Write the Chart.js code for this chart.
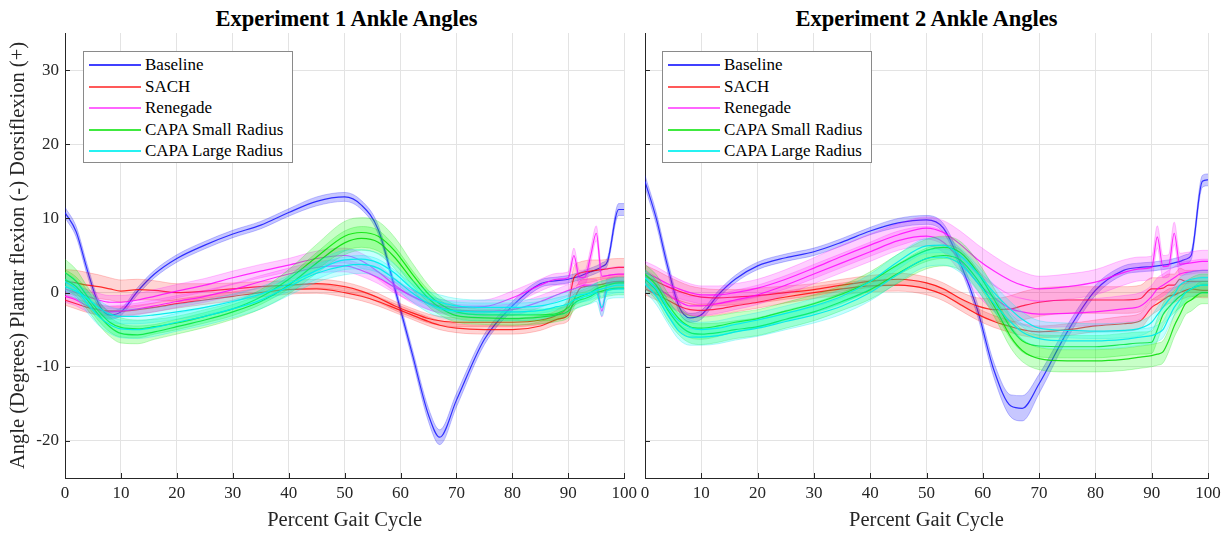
<!DOCTYPE html>
<html><head><meta charset="utf-8">
<script src="https://cdn.jsdelivr.net/npm/chart.js@4.4.1/dist/chart.umd.min.js"></script>
<style>
html,body{margin:0;padding:0;background:#fff;}
body{width:1231px;height:533px;overflow:hidden;position:relative;font-family:"Liberation Serif","Times New Roman",serif;}
.title{position:absolute;top:6px;font-weight:bold;font-size:22.5px;line-height:26px;text-align:center;color:#000;white-space:nowrap;font-family:"Liberation Serif",serif;}
.wrap{position:absolute;top:0;}
.legend{position:absolute;top:51px;width:210px;height:112px;border:1px solid #8a8a8a;background:#fff;box-sizing:border-box;font-size:17px;color:#000;z-index:5;font-family:"Liberation Serif",serif;}
.row{position:absolute;left:0;width:100%;height:20px;line-height:20px;}
.ln{position:absolute;left:5px;top:9px;width:52px;height:2px;}
.tx{position:absolute;left:61px;top:0;white-space:nowrap;}
</style></head>
<body>
<div class="title" style="left:65px;width:563px;">Experiment 1 Ankle Angles</div>
<div class="title" style="left:645px;width:563px;">Experiment 2 Ankle Angles</div>
<div class="wrap" style="left:0;width:642px;height:533px;"><canvas id="c1" width="642" height="533"></canvas></div>
<div class="wrap" style="left:631px;width:600px;height:533px;"><canvas id="c2" width="600" height="533"></canvas></div>
<div class="legend" id="lg1" style="left:83px;"></div>
<div class="legend" id="lg2" style="left:662px;"></div>
<script>
// ---------- data ----------
const seriesNames = ['Baseline','SACH','Renegade','CAPA Small Radius','CAPA Large Radius'];
const xTicks = [0,10,20,30,40,50,60,70,80,90,100];
const yTicks = [-20,-10,0,10,20,30];
const X = [0,2,4,6,8,10,13,16,20,25,30,35,40,45,50,53,56,59,62,65,67,70,75,80,85,88,90,91,92,93,94,95,96,97,99,100];

// Experiment 1 (mean and standard deviation per curve)
const e1Baseline   = [10.8,8.2,3.0,-1.5,-3.0,-2.6,0.2,2.5,4.6,6.4,7.9,9.1,10.8,12.3,12.9,11.8,8.5,0.5,-8.0,-16.5,-19.5,-14.5,-6.3,-1.8,1.2,1.6,1.8,2.0,2.2,2.5,2.8,3.1,3.5,4.2,11.2,11.2];
const e1BaselineSd = [0.7,0.7,0.7,0.6,0.6,0.5,0.5,0.5,0.5,0.5,0.5,0.5,0.5,0.6,0.6,0.6,0.6,0.6,0.7,0.9,1.0,0.9,0.7,0.6,0.5,0.5,0.5,0.5,0.5,0.5,0.5,0.5,0.5,0.5,0.8,0.8];
const e1SachA   = [-1.0,-1.5,-2.0,-2.3,-2.5,-2.5,-2.3,-2.0,-1.5,-1.0,-0.5,0.0,0.4,0.5,0.0,-0.5,-1.2,-2.1,-3.0,-3.9,-4.4,-4.8,-5.0,-5.0,-4.5,-3.6,-3.0,-1.0,0.5,0.8,0.9,1.0,1.1,1.3,1.5,1.5];
const e1SachASd = [0.7,0.7,0.7,0.7,0.6,0.6,0.6,0.6,0.6,0.6,0.6,0.6,0.6,0.6,0.6,0.6,0.6,0.6,0.6,0.6,0.6,0.6,0.6,0.6,0.6,0.7,0.8,1.0,1.0,1.0,1.0,1.0,1.0,1.0,1.0,1.0];
const e1SachB   = [1.5,1.3,1.0,0.8,0.5,0.2,0.4,0.3,0.0,0.2,0.5,0.8,1.0,1.2,0.8,0.2,-0.7,-1.8,-2.7,-3.5,-3.8,-4.0,-4.0,-4.0,-3.7,-3.0,-1.5,2.0,2.6,2.8,2.9,3.0,3.1,3.2,3.4,3.4];
const e1SachBSd = [1.6,1.7,1.7,1.6,1.5,1.5,1.4,1.3,1.2,1.0,0.8,0.7,0.6,0.6,0.6,0.6,0.6,0.6,0.6,0.6,0.6,0.6,0.6,0.6,0.6,0.7,1.0,1.5,1.5,1.5,1.5,1.4,1.3,1.3,1.2,1.2];
const e1RenA   = [0.5,0.0,-0.5,-1.0,-1.3,-1.3,-1.0,-0.5,0.2,1.0,2.0,2.9,3.7,4.6,5.0,4.3,2.8,1.0,-0.5,-1.4,-1.8,-2.0,-1.9,-0.7,1.0,1.8,2.0,5.0,2.0,2.1,5.0,8.0,2.2,2.3,2.5,2.5];
const e1RenASd = [0.9,0.9,0.9,0.9,0.9,0.9,0.9,0.9,0.9,0.9,0.9,0.9,0.9,1.0,1.0,1.0,1.0,0.9,0.9,0.9,0.9,0.9,0.9,0.9,0.8,0.8,0.8,1.0,1.0,1.0,1.0,1.0,1.0,1.0,1.0,1.0];
const e1RenB   = [-0.5,-1.0,-1.8,-2.3,-2.6,-2.5,-2.2,-1.8,-1.2,-0.5,0.4,1.5,2.5,3.4,3.6,3.0,2.0,0.7,-0.4,-1.5,-2.0,-2.4,-2.5,-2.3,-1.2,-0.3,0.3,0.5,0.8,1.0,1.0,1.0,-2.5,1.2,1.3,1.3];
const e1RenBSd = [0.8,0.8,0.8,0.8,0.8,0.8,0.8,0.8,0.8,0.8,0.8,0.8,0.8,0.8,0.8,0.8,0.8,0.8,0.8,0.8,0.8,0.8,0.8,0.8,0.8,0.8,0.8,0.8,0.8,0.8,0.8,0.8,0.8,0.8,0.8,0.8];
const e1GreenA   = [2.7,1.5,-0.5,-2.5,-4.0,-4.7,-4.9,-4.6,-4.1,-3.2,-2.2,-0.6,1.8,4.8,7.6,8.1,7.6,5.6,2.6,-0.2,-1.5,-2.6,-3.0,-3.0,-3.0,-2.8,-2.0,-1.0,-0.6,-0.3,0.0,0.5,0.8,1.0,1.3,1.3];
const e1GreenASd = [1.8,1.6,1.3,1.3,1.3,1.3,1.2,1.0,0.9,0.9,0.9,1.0,1.3,1.7,2.0,2.0,2.0,1.8,1.5,1.2,1.0,0.9,0.8,0.8,0.8,0.8,0.8,0.8,0.8,0.8,0.8,0.8,0.8,0.8,0.8,0.8];
const e1GreenB   = [1.8,0.8,-1.0,-3.0,-4.6,-5.5,-5.7,-5.3,-4.6,-3.7,-2.6,-1.2,1.0,4.0,6.7,7.3,6.8,4.7,1.8,-0.8,-2.0,-3.1,-3.4,-3.5,-3.3,-3.0,-2.5,-1.5,-1.0,-0.8,-0.5,0.0,0.2,0.4,0.6,0.6];
const e1GreenBSd = [1.3,1.3,1.3,1.3,1.3,1.3,1.2,1.0,1.0,1.0,1.0,1.0,1.2,1.4,1.6,1.6,1.6,1.5,1.3,1.1,1.0,0.9,0.9,0.9,0.9,0.9,0.9,0.9,0.9,0.9,0.9,0.9,0.9,0.9,0.9,0.9];
const e1CyanA   = [0.8,0.2,-0.8,-2.0,-2.9,-3.2,-3.2,-3.0,-2.6,-2.0,-1.2,-0.2,1.2,3.0,4.4,4.5,4.0,2.6,0.6,-0.8,-1.3,-1.8,-2.0,-2.0,-1.8,-1.3,-0.8,-0.5,-0.3,-0.2,0.0,0.3,0.5,0.7,1.0,1.0];
const e1CyanASd = [1.0,1.0,1.0,1.0,1.0,1.0,1.0,1.0,1.0,1.0,1.0,1.0,1.1,1.2,1.3,1.3,1.3,1.2,1.1,1.0,1.0,1.0,1.0,1.0,1.0,1.0,1.0,1.0,1.0,1.0,1.0,1.0,1.0,1.0,1.0,1.0];
const e1CyanB   = [1.5,0.5,-1.5,-3.2,-4.3,-4.9,-5.0,-4.7,-4.0,-3.2,-2.2,-1.0,0.8,2.6,3.6,3.8,3.3,1.8,0.0,-1.5,-2.1,-2.5,-2.6,-2.6,-2.4,-1.9,-1.5,-1.0,-0.8,-0.5,-0.3,0.0,-2.0,0.3,0.5,0.5];
const e1CyanBSd = [1.2,1.2,1.2,1.2,1.2,1.2,1.2,1.2,1.2,1.2,1.2,1.2,1.2,1.2,1.2,1.2,1.2,1.2,1.2,1.2,1.2,1.2,1.2,1.2,1.2,1.2,1.2,1.2,1.2,1.2,1.2,1.2,1.2,1.2,1.2,1.2];

// Experiment 2
const e2Baseline   = [15.0,10.0,3.6,-1.8,-3.4,-3.0,-0.3,1.8,3.6,4.7,5.5,6.8,8.3,9.4,9.8,8.7,4.0,-2.2,-10.5,-15.3,-15.6,-12.3,-5.3,0.3,3.0,3.4,3.5,3.6,3.7,3.8,4.0,4.2,4.5,5.0,15.0,15.2];
const e2BaselineSd = [0.8,0.8,0.8,0.7,0.6,0.6,0.5,0.5,0.5,0.5,0.5,0.5,0.5,0.6,0.6,0.6,0.7,0.8,1.0,1.5,1.7,1.3,0.9,0.7,0.6,0.6,0.6,0.6,0.6,0.6,0.6,0.6,0.6,0.6,0.8,0.8];
const e2SachA   = [2.2,1.5,0.8,0.2,-0.3,-0.6,-0.7,-0.6,-0.4,0.0,0.4,1.0,1.5,1.8,1.3,0.5,-0.8,-1.8,-2.3,-2.2,-1.8,-1.3,-1.0,-1.0,-1.0,-0.8,0.5,0.5,0.6,1.0,1.0,1.8,1.5,1.5,1.5,1.5];
const e2SachASd = [1.5,1.5,1.4,1.3,1.2,1.2,1.1,1.0,1.0,0.9,0.8,0.8,0.8,0.8,0.8,0.8,0.9,1.1,1.5,1.8,1.9,1.9,1.8,1.8,1.8,1.8,1.5,1.5,1.5,1.5,1.5,1.5,1.5,1.5,1.5,1.5];
const e2SachB   = [0.5,-0.2,-1.0,-1.8,-2.3,-2.4,-2.2,-1.8,-1.3,-0.6,0.0,0.5,0.9,1.0,0.5,-0.3,-1.6,-2.9,-3.9,-4.6,-5.0,-5.3,-5.0,-4.5,-4.2,-3.8,-2.0,-1.5,-1.0,-0.5,-0.3,0.0,0.3,0.5,0.3,0.3];
const e2SachBSd = [0.8,0.8,0.8,0.8,0.8,0.8,0.8,0.8,0.8,0.8,0.8,0.8,0.8,0.8,0.8,0.8,0.8,0.8,0.8,0.8,0.8,0.8,0.8,0.8,1.0,1.0,1.0,1.0,1.0,1.0,1.0,1.0,1.0,1.0,1.0,1.0];
const e2RenA   = [2.7,2.0,1.2,0.5,0.0,-0.3,-0.3,0.0,0.6,1.8,3.3,4.9,6.4,7.8,8.7,8.1,6.5,4.5,2.9,1.6,1.0,0.5,0.8,1.4,2.7,3.2,3.4,7.5,3.5,3.6,8.0,3.8,3.9,4.0,4.2,4.2];
const e2RenASd = [1.5,1.5,1.4,1.3,1.2,1.2,1.2,1.2,1.2,1.3,1.4,1.5,1.5,1.5,1.5,1.6,1.8,2.0,2.0,1.9,1.8,1.7,1.7,1.7,1.7,1.6,1.5,1.5,1.5,1.5,1.5,1.5,1.5,1.5,1.5,1.5];
const e2RenB   = [1.8,0.8,-0.3,-1.2,-1.8,-1.8,-1.5,-1.0,-0.3,1.0,2.5,4.0,5.5,7.0,7.6,6.8,4.3,1.4,-0.7,-2.2,-2.6,-2.9,-2.8,-2.6,-2.2,-1.8,-0.5,0.5,1.0,1.5,2.0,2.5,2.7,2.8,3.0,3.0];
const e2RenBSd = [1.3,1.3,1.3,1.3,1.3,1.3,1.3,1.3,1.3,1.3,1.3,1.3,1.3,1.3,1.3,1.4,1.5,1.7,1.8,1.8,1.8,1.8,1.8,1.8,1.8,1.8,1.5,1.5,1.5,1.5,1.5,1.5,1.5,1.5,1.5,1.5];
const e2GreenA   = [2.5,1.0,-1.5,-3.5,-4.6,-4.8,-4.5,-4.0,-3.5,-2.5,-1.5,-0.2,1.5,3.8,5.7,6.1,5.4,2.8,-0.9,-4.8,-6.5,-7.2,-7.3,-7.3,-7.0,-6.8,-6.7,-5.0,-3.0,-2.0,-1.2,-0.5,0.0,0.5,1.0,1.0];
const e2GreenASd = [1.3,1.4,1.5,1.5,1.5,1.5,1.4,1.3,1.2,1.2,1.2,1.2,1.3,1.4,1.5,1.5,1.5,1.5,1.5,1.5,1.5,1.5,1.5,1.5,1.5,1.5,1.5,1.5,1.5,1.5,1.5,1.5,1.5,1.5,1.5,1.5];
const e2GreenB   = [1.8,0.3,-2.3,-4.3,-5.4,-5.6,-5.4,-5.0,-4.6,-3.6,-2.6,-1.2,0.4,2.6,4.6,5.0,4.4,1.8,-1.8,-6.0,-7.8,-8.9,-9.2,-9.2,-9.0,-8.7,-8.5,-8.3,-8.0,-6.5,-4.5,-3.0,-1.5,-1.0,0.0,0.0];
const e2GreenBSd = [1.3,1.3,1.4,1.4,1.4,1.4,1.3,1.2,1.2,1.2,1.2,1.2,1.3,1.3,1.4,1.4,1.4,1.4,1.4,1.5,1.5,1.5,1.5,1.5,1.5,1.5,1.5,1.5,1.5,1.5,1.5,1.5,1.5,1.5,1.5,1.5];
const e2CyanA   = [2.0,0.5,-2.0,-3.8,-4.7,-5.0,-4.8,-4.3,-3.7,-2.8,-1.8,-0.5,1.5,4.2,6.3,6.4,5.0,2.7,0.0,-2.3,-3.6,-4.8,-5.1,-5.2,-5.1,-4.8,-4.0,-3.0,-2.0,-1.0,-0.2,1.0,1.5,1.8,2.0,2.0];
const e2CyanASd = [1.0,1.0,1.0,1.0,1.0,1.0,1.0,1.0,1.0,1.0,1.0,1.0,1.0,1.0,1.0,1.0,1.0,1.0,1.0,1.0,1.0,1.0,1.0,1.0,1.0,1.0,1.0,1.0,1.0,1.0,1.0,1.0,1.0,1.0,1.0,1.0];
const e2CyanB   = [1.2,-0.5,-3.0,-5.2,-6.0,-6.0,-5.8,-5.3,-4.8,-3.9,-3.0,-1.8,0.0,2.5,4.6,4.8,3.8,1.4,-1.5,-4.0,-5.3,-6.2,-6.5,-6.5,-6.3,-6.0,-5.8,-5.5,-5.0,-3.5,-2.0,-1.0,0.0,0.5,1.0,1.0];
const e2CyanBSd = [1.1,1.1,1.1,1.1,1.1,1.1,1.1,1.1,1.1,1.1,1.1,1.1,1.1,1.1,1.1,1.1,1.1,1.1,1.1,1.1,1.1,1.1,1.1,1.1,1.1,1.1,1.1,1.1,1.1,1.1,1.1,1.1,1.1,1.1,1.1,1.1];

// curve lists: [series index, mean, sd]
const exp1Curves = [[0,e1Baseline,e1BaselineSd],[1,e1SachA,e1SachASd],[1,e1SachB,e1SachBSd],[2,e1RenA,e1RenASd],[2,e1RenB,e1RenBSd],[3,e1GreenA,e1GreenASd],[3,e1GreenB,e1GreenBSd],[4,e1CyanA,e1CyanASd],[4,e1CyanB,e1CyanBSd]];
const exp2Curves = [[0,e2Baseline,e2BaselineSd],[1,e2SachA,e2SachASd],[1,e2SachB,e2SachBSd],[2,e2RenA,e2RenASd],[2,e2RenB,e2RenBSd],[3,e2GreenA,e2GreenASd],[3,e2GreenB,e2GreenBSd],[4,e2CyanA,e2CyanASd],[4,e2CyanB,e2CyanBSd]];

// ---------- styles ----------
const lineColors = ['rgba(20,20,255,0.85)','rgba(255,0,0,0.8)','rgba(255,0,255,0.8)','rgba(0,220,0,0.85)','rgba(0,235,235,0.95)'];
const bandColors = ['rgba(0,0,255,0.22)','rgba(255,0,0,0.17)','rgba(255,0,255,0.19)','rgba(0,255,0,0.22)','rgba(0,255,255,0.22)'];
const edgeColors = ['rgba(0,0,255,0.3)','rgba(255,0,0,0.25)','rgba(255,0,255,0.28)','rgba(0,220,0,0.3)','rgba(0,230,230,0.35)'];
const legendColors = ['rgba(0,0,255,0.75)','rgba(255,0,0,0.65)','rgba(255,0,255,0.6)','rgba(0,225,0,0.75)','rgba(0,240,240,0.85)'];
const FONT = '"Liberation Serif", serif';
const gridColor = '#e3e3e3';
const axisColor = '#262626';

// legends
const rowTops = [3,25,46,68,89];
['lg1','lg2'].forEach(id => {
  const box = document.getElementById(id);
  seriesNames.forEach((n, i) => {
    const r = document.createElement('div');
    r.className = 'row';
    r.style.top = rowTops[i] + 'px';
    const ln = document.createElement('div');
    ln.className = 'ln';
    ln.style.background = legendColors[i];
    const tx = document.createElement('span');
    tx.className = 'tx';
    tx.textContent = n;
    r.appendChild(ln); r.appendChild(tx);
    box.appendChild(r);
  });
});

const inTicks = {
  id: 'inTicks',
  afterDraw(chart) {
    const {ctx, chartArea: a, scales: {x, y}} = chart;
    ctx.save();
    ctx.strokeStyle = axisColor;
    ctx.lineWidth = 1;
    ctx.beginPath();
    yTicks.forEach(v => { const py = Math.round(y.getPixelForValue(v)) + 0.5; ctx.moveTo(a.left, py); ctx.lineTo(a.left + 5, py); });
    xTicks.forEach(v => { const px = Math.round(x.getPixelForValue(v)) + 0.5; ctx.moveTo(px, a.bottom); ctx.lineTo(px, a.bottom - 5); });
    ctx.stroke();
    ctx.restore();
  }
};

function makeChart(id, curves, showY, yWidth, padRight) {
  const datasets = [];
  let paint = 0;
  curves.forEach(([s, mean, sd]) => {
    const common = {pointRadius: 0, pointHoverRadius: 0, cubicInterpolationMode: 'monotone'};
    datasets.push(Object.assign({data: X.map((x, i) => ({x, y: mean[i] + sd[i]})), borderColor: edgeColors[s], borderWidth: 0.8, backgroundColor: bandColors[s], fill: '+1', order: -(paint++)}, common));
    datasets.push(Object.assign({data: X.map((x, i) => ({x, y: mean[i] - sd[i]})), borderColor: edgeColors[s], borderWidth: 0.8, fill: false, order: -(paint++)}, common));
    datasets.push(Object.assign({data: X.map((x, i) => ({x, y: mean[i]})), borderColor: lineColors[s], borderWidth: 1.2, fill: false, order: -(paint++)}, common));
  });
  return new Chart(document.getElementById(id), {
    type: 'line',
    data: {datasets},
    plugins: [inTicks],
    options: {
      responsive: false, animation: false, events: [],
      layout: {padding: {top: 33, right: padRight, left: 0, bottom: 0}},
      plugins: {legend: {display: false}, tooltip: {enabled: false}, title: {display: false}},
      scales: {
        x: {
          type: 'linear', min: 0, max: 100,
          afterBuildTicks: s => { s.ticks = xTicks.map(v => ({value: v})); },
          afterFit: s => { s.height = 55; },
          grid: {color: gridColor, drawTicks: false, lineWidth: 1},
          border: {display: true, color: axisColor, width: 1},
          ticks: {padding: 5, color: axisColor, font: {family: FONT, size: 17}, maxRotation: 0, autoSkip: false},
          title: {display: true, text: 'Percent Gait Cycle', color: axisColor, font: {family: FONT, size: 20.5}, padding: {top: 0, bottom: 0}}
        },
        y: {
          type: 'linear', min: -25, max: 35,
          afterBuildTicks: s => { s.ticks = yTicks.map(v => ({value: v})); },
          afterFit: s => { s.width = yWidth; },
          grid: {color: gridColor, drawTicks: false, lineWidth: 1},
          border: {display: true, color: axisColor, width: 1},
          ticks: {display: showY, padding: 6, color: axisColor, font: {family: FONT, size: 17}},
          title: {display: showY, text: 'Angle (Degrees) Plantar flexion (-) Dorsiflexion (+)', color: axisColor, font: {family: FONT, size: 20.5}, padding: {top: 6.7, bottom: 0}}
        }
      }
    }
  });
}

makeChart('c1', exp1Curves, true, 65, 14);
makeChart('c2', exp2Curves, false, 14, 23);
</script>
</body></html>
